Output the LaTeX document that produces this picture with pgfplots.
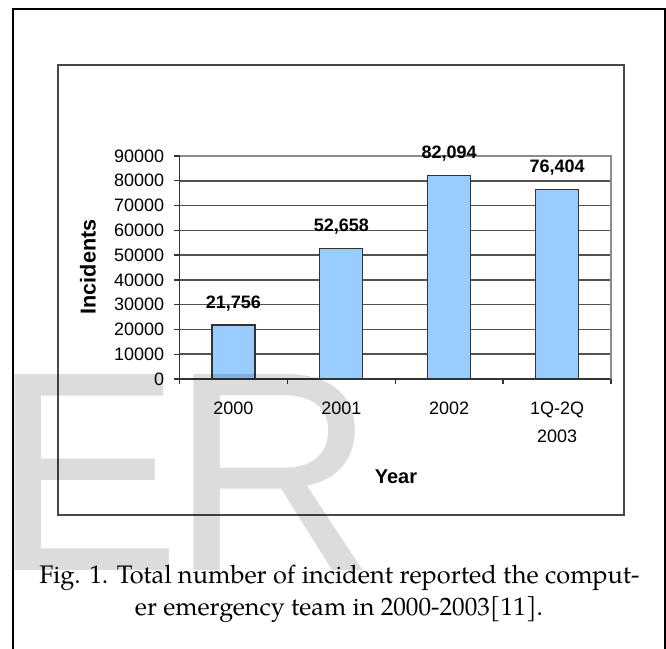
\documentclass[border=0pt]{standalone}
\usepackage{fontspec}
\setmainfont{Liberation Sans}
\newfontfamily\pal{TeX Gyre Pagella}
\usepackage{pgfplots}
\pgfplotsset{compat=1.18}
\definecolor{barblue}{HTML}{99CCFF}
\definecolor{wm}{HTML}{DCDCDC}
\begin{document}
\begin{tikzpicture}
\path[use as bounding box] (0,0) rectangle (333pt,324.5pt);
% outer frame (open at the bottom)
\draw[line width=1pt] (6.5pt,-2pt) -- (6.5pt,320pt) -- (332.5pt,320pt) -- (332.5pt,-2pt);
% inner chart box
\draw[line width=1.1pt, black!72] (29pt,67pt) rectangle (312pt,292pt);
\begin{axis}[
  at={(89.75pt,135pt)}, anchor=south west,
  scale only axis, width=215.75pt, height=111.5pt,
  xmin=-0.5, xmax=3.5, ymin=0, ymax=90000,
  ytick={0,10000,20000,30000,40000,50000,60000,70000,80000,90000},
  minor ytick={0,10000,20000,30000,40000,50000,60000,70000,80000,90000},
  xtick={0,1,2,3},
  xticklabels={2000,2001,2002,{1Q-2Q\\2003}},
  minor xtick={-0.5,0.5,1.5,2.5,3.5},
  scaled y ticks=false,
  axis x line*=bottom, axis y line*=left,
  axis line style={black!80, line width=0.7pt},
  tick align=outside,
  major tick length=0pt, minor tick length=2.5pt,
  tick style={black!80, line width=0.7pt},
  ymajorgrids,
  major grid style={black!68, line width=0.75pt},
  yticklabel style={anchor=east, inner sep=0pt, xshift=-7.5pt,
    font=\fontsize{9}{10}\selectfont,
    /pgf/number format/1000 sep={}, /pgf/number format/assume math mode=true},
  xticklabel style={anchor=north, inner sep=0pt, yshift=-11.5pt, align=center,
    font=\fontsize{9}{14}\selectfont},
  clip=false,
]
\addplot[ybar, bar width=21.5pt, fill=barblue, draw=black!80, line width=0.6pt,
  nodes near coords={\pgfmathprintnumber[assume math mode=true,1000 sep={,}]{\pgfplotspointmeta}},
  every node near coord/.append style={font=\bfseries\fontsize{9}{10}\selectfont,
    anchor=base, inner sep=0pt, yshift=8.5pt, text=black}]
  coordinates {(0,21756) (1,52658) (2,82094) (3,76404)};
\draw[black!45, line width=0.6pt] (rel axis cs:0,1) -- (rel axis cs:1,1) -- (rel axis cs:1,0);
\end{axis}
\node[font=\bfseries\fontsize{10}{12}\selectfont] at (198pt,86pt) {Year};
\node[rotate=90, font=\bfseries\fontsize{10.8}{12}\selectfont] at (44pt,191pt) {Incidents};
% caption
\node[anchor=base, inner sep=0pt, font=\pal\fontsize{12.7}{16}\selectfont] at (169.75pt,32.5pt)
  {Fig. 1. Total number of incident reported the comput-};
\node[anchor=base, inner sep=0pt, font=\pal\fontsize{12.6}{16}\selectfont] at (169.5pt,16.5pt)
  {er emergency team in 2000-2003[11].};
% watermark
\begin{scope}[blend mode=multiply]
\node[anchor=base west, inner sep=0pt, text=wm, font=\fontsize{142.5}{142.5}\selectfont] at (-4.3pt,39pt) {E};
\node[anchor=base west, inner sep=0pt, text=wm, font=\fontsize{142.5}{142.5}\selectfont] at (85pt,39pt) {R};
\end{scope}
\end{tikzpicture}
\end{document}
